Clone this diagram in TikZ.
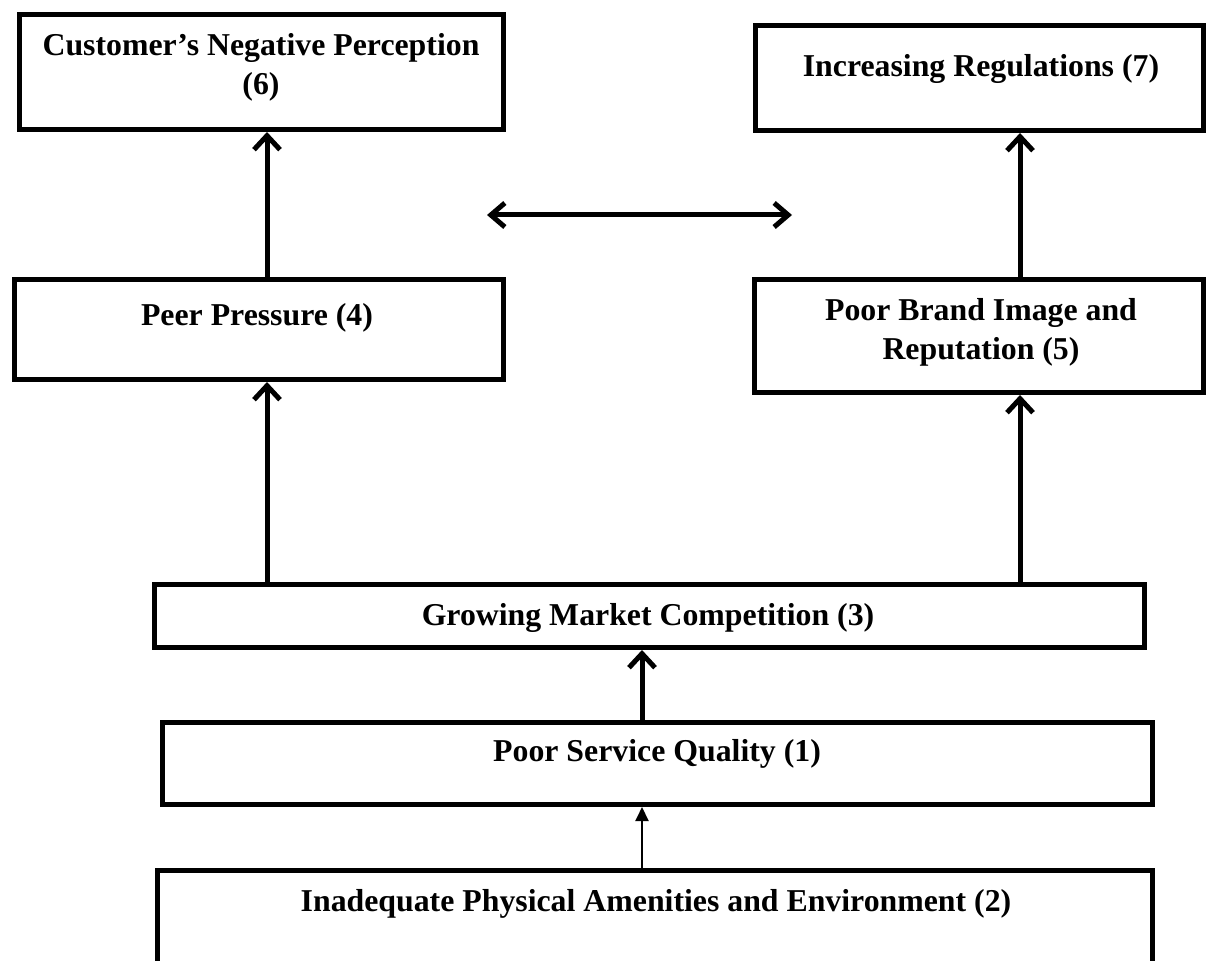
\documentclass[tikz,border=0pt]{standalone}
\usepackage{fontspec}
\setmainfont{Liberation Serif}
\usetikzlibrary{arrows.meta,fit}
\begin{document}
\begin{tikzpicture}[x=0.5pt,y=-0.5pt,
  box/.style={draw=black, line width=2.5pt, rectangle, inner sep=0pt},
  txt/.style={font=\bfseries\fontsize{15.9}{19.5}\selectfont, align=center, inner sep=0pt},
  arr/.style={line width=2.5pt, -{Straight Barb[length=7pt,width=13pt]}},
  darr/.style={line width=2.5pt, {Straight Barb[length=7pt,width=12pt]}-{Straight Barb[length=7pt,width=12pt]}},
  thinarr/.style={line width=1pt, -{Triangle[length=7pt,width=6.5pt]}}]
\useasboundingbox (0,0) rectangle (1208,961);
\clip (0,0) rectangle (1208,961);
% boxes
\coordinate (b6a) at (19.5,14.5);   \coordinate (b6b) at (503,129.5);
\coordinate (b7a) at (755.5,25.5);  \coordinate (b7b) at (1203.5,130.5);
\coordinate (b4a) at (14.5,279.5);  \coordinate (b4b) at (503,379.5);
\coordinate (b5a) at (754.5,279.5); \coordinate (b5b) at (1203.5,392.5);
\coordinate (b3a) at (154.5,584.5); \coordinate (b3b) at (1144.5,647.5);
\coordinate (b1a) at (162.5,722.5); \coordinate (b1b) at (1152.5,804.5);
\coordinate (b2a) at (157.5,870.5); \coordinate (b2b) at (1152.5,1010);
\node[box, fit=(b6a)(b6b)] (b6) {};
\node[box, fit=(b7a)(b7b)] (b7) {};
\node[box, fit=(b4a)(b4b)] (b4) {};
\node[box, fit=(b5a)(b5b)] (b5) {};
\node[box, fit=(b3a)(b3b)] (b3) {};
\node[box, fit=(b1a)(b1b)] (b1) {};
\node[box, fit=(b2a)(b2b)] (b2) {};
% texts
\node[txt] (t6) at (261,67) {Customer’s Negative Perception\\(6)};
\node[txt] (t7) at (981,69) {Increasing Regulations (7)};
\node[txt] (t4) at (257,318) {Peer Pressure (4)};
\node[txt] (t5) at (981,332) {Poor Brand Image and\\Reputation (5)};
\node[txt] (t3) at (648,618) {Growing Market Competition (3)};
\node[txt] (t1) at (657,754) {Poor Service Quality (1)};
\node[txt] (t2) at (656,904) {Inadequate Physical Amenities and Environment (2)};
% connectors
\coordinate (xL) at (267,0);
\coordinate (xR) at (1020,0);
\coordinate (xM) at (642,0);
\draw[arr] (b4.north -| xL) -- (b6.south -| xL);
\draw[arr] (b5.north -| xR) -- (b7.south -| xR);
\draw[arr] (b3.north -| xL) -- (b4.south -| xL);
\draw[arr] (b3.north -| xR) -- (b5.south -| xR);
\draw[arr] (b1.north -| xM) -- (b3.south -| xM);
\draw[thinarr] (b2.north -| xM) -- (b1.south -| xM);
\coordinate (dL) at (487,215);
\coordinate (dR) at (792,215);
\draw[darr] (dL) -- (dR);
\end{tikzpicture}
\end{document}
